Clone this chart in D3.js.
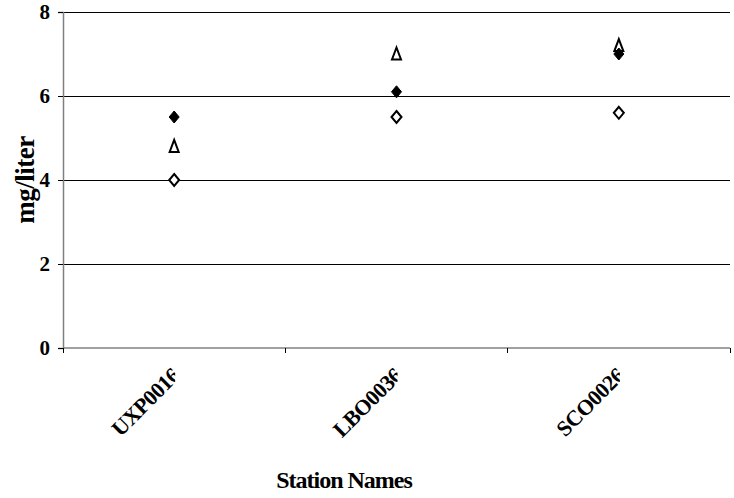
<!DOCTYPE html>
<html>
<head>
<meta charset="utf-8">
<script src="https://d3js.org/d3.v7.min.js"></script>
<style>
  html, body { margin: 0; padding: 0; background: #fff; }
  svg { display: block; }
  text { font-family: "Liberation Serif", "Times New Roman", serif; font-weight: bold; fill: #000; }
</style>
</head>
<body>
<svg id="chart" width="734" height="498"></svg>
<script>
// ---- data ----
const categories = ["UXP0016", "LBO0036", "SCO0026"];
const seriesFilledDiamond = [5.5, 6.1, 7.0];
const seriesOpenTriangle = [4.8, 7.0, 7.2];
const seriesOpenDiamond = [4.0, 5.5, 5.6];
const yTicks = [0, 2, 4, 6, 8];

const W = 734, H = 498;
const mLeft = 63, mRight = 730, mTop = 12, mBottom = 348;

const svg = d3.select("#chart");

const x = d3.scaleBand().domain(categories).range([mLeft, mRight]).padding(0);
const y = d3.scaleLinear().domain([0, 8]).range([mBottom, mTop]);

// gridlines
svg.append("g").selectAll("line")
  .data(yTicks.filter(d => d > 0))
  .join("line")
  .attr("x1", mLeft).attr("x2", mRight)
  .attr("y1", d => y(d)).attr("y2", d => y(d))
  .attr("stroke", "#000").attr("stroke-width", 1)
  .attr("shape-rendering", "crispEdges");

// y axis
const yAxis = d3.axisLeft(y).tickValues(yTicks).tickSize(5).tickPadding(8).tickFormat(d3.format("d"));
const gy = svg.append("g").attr("transform", `translate(${mLeft},0)`).call(yAxis);
gy.select(".domain").attr("stroke", "#808080").attr("stroke-width", 1.5);
gy.selectAll(".tick line").attr("stroke", "#000").attr("shape-rendering", "crispEdges");
gy.selectAll(".tick text").style("font-size", "21px").style("font-family", "Liberation Serif").style("font-weight", "bold");

// x axis
const xTickPositions = [mLeft, ...categories.map(c => x(c) + x.bandwidth())];
const gx = svg.append("g");
gx.append("line").attr("x1", mLeft).attr("x2", mRight).attr("y1", mBottom).attr("y2", mBottom)
  .attr("stroke", "#808080").attr("stroke-width", 1.5);
gx.selectAll("line.tk").data(xTickPositions).join("line").attr("class", "tk")
  .attr("x1", d => d).attr("x2", d => d).attr("y1", mBottom).attr("y2", mBottom + 5)
  .attr("stroke", "#000").attr("shape-rendering", "crispEdges");

// category labels (clipped like the original)
const defs = svg.append("defs");
categories.forEach((c, i) => {
  const cx = x(c) + x.bandwidth() / 2;
  defs.append("clipPath").attr("id", "clip" + i)
    .append("rect").attr("x", 0).attr("y", 0).attr("width", cx + 1).attr("height", H);
  svg.append("g").attr("clip-path", `url(#clip${i})`)
    .append("text")
    .attr("transform", `translate(${cx + 7},377) rotate(-45)`)
    .attr("text-anchor", "end")
    .style("font-size", "22px")
    .style("letter-spacing", "-0.5px")
    .text(c);
});

// axis titles
svg.append("text")
  .attr("transform", `translate(34,${(mTop + mBottom) / 2}) rotate(-90)`)
  .attr("text-anchor", "middle")
  .style("font-size", "27px")
  .style("letter-spacing", "-0.5px")
  .text("mg/liter");

svg.append("text")
  .attr("x", 344).attr("y", 488)
  .attr("text-anchor", "middle")
  .style("font-size", "24px")
  .style("letter-spacing", "-1px")
  .text("Station Names");

// markers
const diamond = "M0,-6L5,0L0,6L-5,0Z";
const triangle = "M0,-6.5L4.5,5.5L-4.5,5.5Z";

const g = svg.append("g");
g.selectAll("path.od").data(seriesOpenDiamond).join("path").attr("class", "od")
  .attr("d", diamond)
  .attr("transform", (d, i) => `translate(${x(categories[i]) + x.bandwidth() / 2},${y(d)})`)
  .attr("fill", "#fff").attr("stroke", "#000").attr("stroke-width", 2);
g.selectAll("path.ot").data(seriesOpenTriangle).join("path").attr("class", "ot")
  .attr("d", triangle)
  .attr("transform", (d, i) => `translate(${x(categories[i]) + x.bandwidth() / 2},${y(d)})`)
  .attr("fill", "#fff").attr("stroke", "#000").attr("stroke-width", 2);
g.selectAll("path.fd").data(seriesFilledDiamond).join("path").attr("class", "fd")
  .attr("d", diamond)
  .attr("transform", (d, i) => `translate(${x(categories[i]) + x.bandwidth() / 2},${y(d)})`)
  .attr("fill", "#000").attr("stroke", "#000").attr("stroke-width", 1);
</script>
</body>
</html>
